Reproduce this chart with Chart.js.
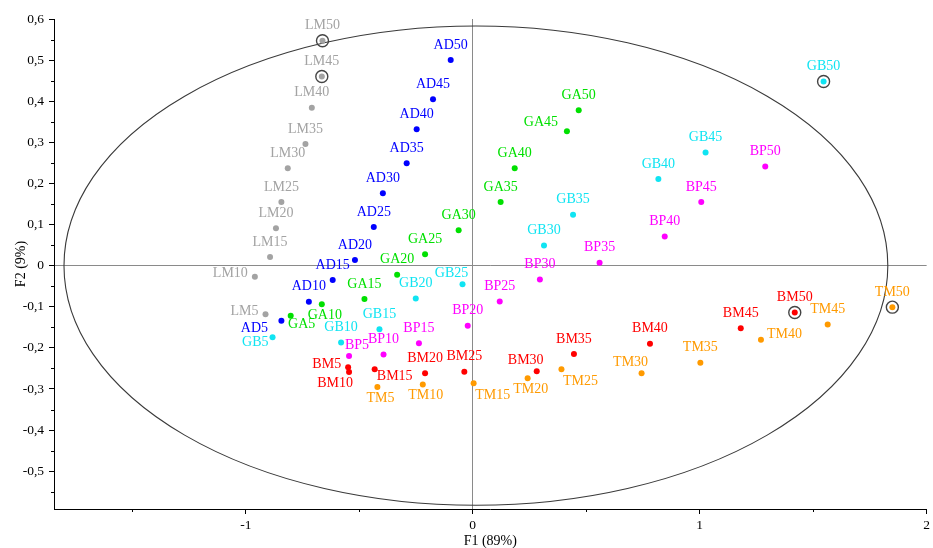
<!DOCTYPE html>
<html><head><meta charset="utf-8">
<script src="https://cdn.jsdelivr.net/npm/chart.js@4/dist/chart.umd.min.js"></script>
<style>html,body{margin:0;padding:0;background:#fff}#wrap{width:933px;height:548px}</style>
</head><body><div id="wrap"><canvas id="c" width="933" height="548"></canvas></div>
<script>
// ---- data ----
const groups = ['LM', 'AD', 'GA', 'GB', 'BP', 'BM', 'TM'];
const levels = [5, 10, 15, 20, 25, 30, 35, 40, 45, 50];

const lmX = [-0.913, -0.960, -0.893, -0.867, -0.843, -0.815, -0.737, -0.709, -0.665, -0.662];
const lmY = [-0.118, -0.027, 0.021, 0.091, 0.155, 0.237, 0.296, 0.384, 0.460, 0.547];
const adX = [-0.843, -0.722, -0.617, -0.519, -0.436, -0.396, -0.291, -0.247, -0.175, -0.097];
const adY = [-0.134, -0.088, -0.035, 0.014, 0.094, 0.176, 0.249, 0.332, 0.405, 0.500];
const gaX = [-0.802, -0.665, -0.477, -0.333, -0.210, -0.062, 0.123, 0.185, 0.415, 0.467];
const gaY = [-0.122, -0.094, -0.081, -0.022, 0.028, 0.086, 0.155, 0.237, 0.327, 0.378];
const gbX = [-0.882, -0.580, -0.411, -0.251, -0.045, 0.314, 0.442, 0.818, 1.026, 1.546];
const gbY = [-0.174, -0.187, -0.155, -0.080, -0.045, 0.049, 0.124, 0.211, 0.275, 0.448];
const bpX = [-0.545, -0.393, -0.237, -0.022, 0.119, 0.296, 0.559, 0.846, 1.007, 1.289];
const bpY = [-0.220, -0.216, -0.189, -0.146, -0.087, -0.034, 0.007, 0.071, 0.155, 0.241];
const bmX = [-0.549, -0.545, -0.432, -0.210, -0.037, 0.282, 0.446, 0.781, 1.181, 1.419];
const bmY = [-0.247, -0.259, -0.252, -0.262, -0.258, -0.257, -0.215, -0.190, -0.152, -0.114];
const tmX = [-0.420, -0.220, 0.004, 0.242, 0.391, 0.744, 1.003, 1.270, 1.564, 1.849];
const tmY = [-0.295, -0.289, -0.286, -0.274, -0.252, -0.262, -0.236, -0.180, -0.143, -0.101];

const xTickValues = [-1, 0, 1, 2];
const xMinorValues = [-1.5, -0.5, 0.5, 1.5];
const yTickValues = [-0.5, -0.4, -0.3, -0.2, -0.1, 0, 0.1, 0.2, 0.3, 0.4, 0.5, 0.6];
const yMinorValues = [-0.55, -0.45, -0.35, -0.25, -0.15, -0.05, 0.05, 0.15, 0.25, 0.35, 0.45, 0.55];
const circled = ['LM50', 'LM45', 'GB50', 'BM50', 'TM50'];

// ellipse (data units)
const ellipseCenter = [0.014, 0];
const ellipseRadii = [1.815, 0.583];

// ---- style ----
const colors = ['#a3a3a3', '#0000ff', '#00e000', '#10e4f2', '#ff00ff', '#ff0000', '#ff9a00'];
const labelPlace = [
  ['w','w','n','n','n','n','n','n','n','n'],
  ['swf','n','n','n','n','n','n','n','n','n'],
  ['sen','s','n','n','n','n','n','n','nwf','n'],
  ['ws','n','n','n','nw','n','n','n','n','n'],
  ['ne','n','n','n','n','n','n','n','n','n'],
  ['w','sw','ese','n','n','nw','n','n','n','n'],
  ['s','s','se','s','se','nw','n','e','n','n']
];
const OFF = {
  n: [0, -15, 'center'], s: [3, 11, 'center'], w: [-7, -3, 'right'], ws: [-4, 5, 'right'],
  e: [6, -5, 'left'], nw: [-11, -11, 'center'], nwf: [-26, -9, 'center'], ne: [8, -11, 'center'],
  sw: [-14, 11, 'center'], swf: [-27, 8, 'center'], se: [19, 12, 'center'], sen: [11, 9, 'center'],
  ese: [20, 7, 'center']
};

const xs = [lmX, adX, gaX, gbX, bpX, bmX, tmX];
const ys = [lmY, adY, gaY, gbY, bpY, bmY, tmY];

const datasets = groups.map((g, i) => ({
  label: g,
  data: levels.map((l, j) => ({ x: xs[i][j], y: ys[i][j] })),
  backgroundColor: colors[i],
  borderColor: colors[i],
  pointRadius: 3,
  pointBorderWidth: 0,
  pointHoverRadius: 3
}));

const near = (a, b) => Math.abs(a - b) < 1e-6;
const isMajorY = v => yTickValues.some(t => near(t, v));
const isMajorX = v => xTickValues.some(t => near(t, v));
const fmt = v => near(v, 0) ? '0' : (Math.round(v * 10) / 10).toFixed(1).replace('.', ',');

Chart.defaults.font.family = "'Liberation Serif', 'Times New Roman', serif";
Chart.defaults.color = '#000';

const ellipsePlugin = {
  id: 'ellipse',
  beforeDatasetsDraw(chart) {
    const { ctx, scales: { x, y } } = chart;
    const cx = x.getPixelForValue(ellipseCenter[0]);
    const cy = y.getPixelForValue(ellipseCenter[1]);
    const rx = Math.abs(x.getPixelForValue(ellipseCenter[0] + ellipseRadii[0]) - cx);
    const ry = Math.abs(y.getPixelForValue(ellipseCenter[1] + ellipseRadii[1]) - cy);
    ctx.save();
    ctx.beginPath();
    ctx.ellipse(cx, cy, rx, ry, 0, 0, Math.PI * 2);
    ctx.strokeStyle = '#3a3a3a';
    ctx.lineWidth = 1.1;
    ctx.stroke();
    ctx.restore();
  }
};

const minorTicksPlugin = {
  id: 'minorTicks',
  afterDraw(chart) {
    const { ctx, scales: { x, y }, chartArea } = chart;
    ctx.save();
    ctx.strokeStyle = '#000';
    ctx.lineWidth = 1;
    yMinorValues.forEach(v => {
      const py = Math.round(y.getPixelForValue(v)) + 0.5;
      ctx.beginPath(); ctx.moveTo(chartArea.left - 3, py); ctx.lineTo(chartArea.left, py); ctx.stroke();
    });
    xMinorValues.forEach(v => {
      const px = Math.round(x.getPixelForValue(v)) + 0.5;
      ctx.beginPath(); ctx.moveTo(px, chartArea.bottom); ctx.lineTo(px, chartArea.bottom + 3); ctx.stroke();
    });
    ctx.restore();
  }
};

const labelsPlugin = {
  id: 'pointLabels',
  afterDatasetsDraw(chart) {
    const { ctx } = chart;
    ctx.save();
    ctx.font = "14px 'Liberation Serif', 'Times New Roman', serif";
    ctx.textBaseline = 'middle';
    chart.data.datasets.forEach((ds, i) => {
      const meta = chart.getDatasetMeta(i);
      meta.data.forEach((pt, j) => {
        const name = groups[i] + levels[j];
        if (circled.includes(name)) {
          ctx.beginPath();
          ctx.arc(pt.x, pt.y, 6, 0, Math.PI * 2);
          ctx.strokeStyle = '#444';
          ctx.lineWidth = 1.4;
          ctx.stroke();
        }
        const o = OFF[labelPlace[i][j]];
        ctx.fillStyle = colors[i];
        ctx.textAlign = o[2];
        ctx.fillText(name, pt.x + o[0], pt.y + o[1]);
      });
    });
    ctx.restore();
  }
};

new Chart(document.getElementById('c'), {
  type: 'scatter',
  data: { datasets },
  options: {
    responsive: false,
    animation: false,
    devicePixelRatio: 1,
    layout: { padding: { top: 19, right: 6, left: 0, bottom: 0 } },
    plugins: { legend: { display: false }, tooltip: { enabled: false } },
    events: [],
    scales: {
      x: {
        type: 'linear',
        min: -1.845, max: 2,
        afterFit: s => { s.height = 39; },
        afterBuildTicks: s => { s.ticks = xTickValues.map(v => ({ value: v })); },
        border: { display: true, color: '#000', width: 1 },
        grid: {
          drawOnChartArea: true,
          color: c => (c.tick && near(c.tick.value, 0)) ? '#8a8a8a' : 'rgba(0,0,0,0)',
          tickColor: '#000',
          tickLength: 5
        },
        ticks: {
          autoSkip: false,
          maxRotation: 0,
          padding: 3,
          font: { size: 13.5 },
          callback: v => String(Math.round(v))
        },
        title: { display: true, text: 'F1 (89%)', font: { size: 14, lineHeight: 1.0 }, padding: { top: 0, bottom: 0 } }
      },
      y: {
        type: 'linear',
        min: -0.592, max: 0.6,
        afterFit: s => { s.width = 54; },
        afterBuildTicks: s => { s.ticks = yTickValues.map(v => ({ value: v })); },
        border: { display: true, color: '#000', width: 1 },
        grid: {
          drawOnChartArea: true,
          color: c => (c.tick && near(c.tick.value, 0)) ? '#8a8a8a' : 'rgba(0,0,0,0)',
          tickColor: '#000',
          tickLength: 5
        },
        ticks: {
          autoSkip: false,
          padding: 5,
          font: { size: 13.5 },
          callback: v => fmt(v)
        },
        title: { display: true, text: 'F2 (9%)', font: { size: 14, lineHeight: 1.0 }, padding: { top: 14, bottom: 0 } }
      }
    }
  },
  plugins: [ellipsePlugin, minorTicksPlugin, labelsPlugin]
});
</script></body></html>
